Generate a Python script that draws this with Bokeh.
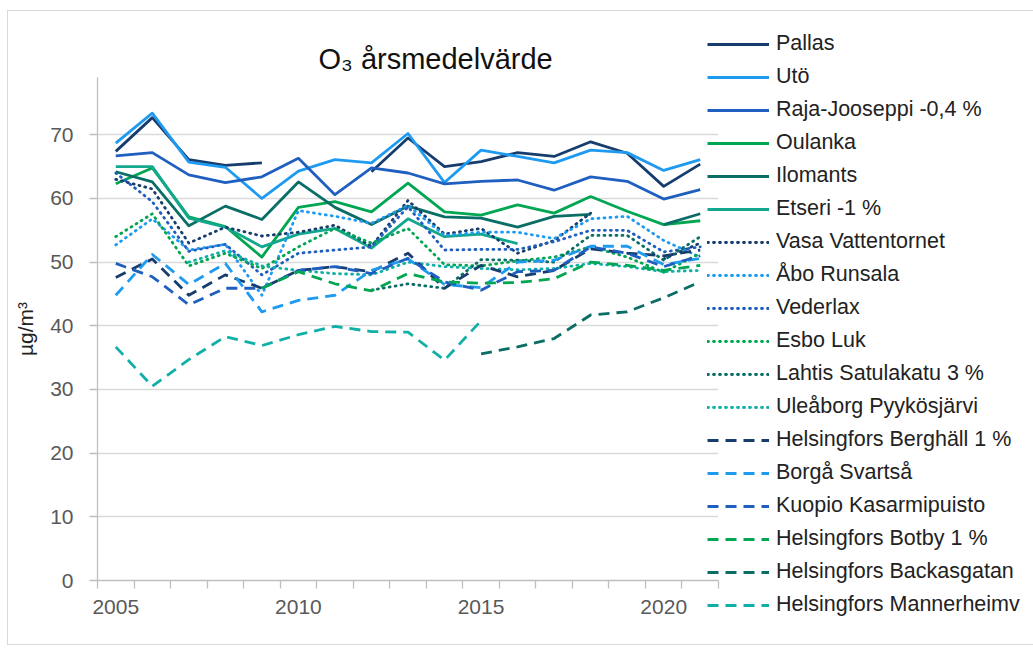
import math
from bokeh.plotting import figure
from bokeh.models import (FixedTicker, Legend, LegendItem, Range1d, ColumnDataSource)
from bokeh.embed import file_html
from bokeh.resources import INLINE

nan = float("nan")

years = list(range(2005, 2022))
tick_years = [2005, 2010, 2015, 2020]
y_ticks = [0, 10, 20, 30, 40, 50, 60, 70]

pallas = [67.4, 72.7, 66.1, 65.2, 65.6, nan, nan, 64.2, 69.5, 65.0, 65.8, 67.2, 66.6, 68.9, 67.1, 61.9, 65.4]
uto = [68.7, 73.4, 65.7, 64.9, 60.0, 64.3, 66.1, 65.6, 70.2, 62.5, 67.6, 66.6, 65.6, 67.6, 67.2, 64.4, 66.1]
raja = [66.7, 67.2, 63.7, 62.5, 63.4, 66.3, 60.6, 64.8, 64.0, 62.3, 62.7, 62.9, 61.3, 63.4, 62.7, 59.9, 61.4]
oulanka = [62.3, 64.8, 57.1, 55.6, 50.8, 58.6, 59.5, 57.9, 62.4, 57.9, 57.4, 59.0, 57.7, 60.3, 58.0, 55.9, 56.5]
ilomants = [64.2, 62.6, 55.7, 58.8, 56.7, 62.6, 58.6, 55.9, 58.8, 57.1, 56.9, 55.5, 57.2, 57.5, nan, 55.9, 57.6]
etseri = [65.0, 65.0, 56.9, 55.5, 52.4, 54.4, 55.3, 52.2, 56.8, 54.0, 54.4, 52.9, nan, nan, nan, nan, nan]
vasa = [63.0, 61.5, 53.0, 55.5, 54.1, 54.7, 55.8, 52.5, 59.7, 54.4, 55.3, 51.4, 53.4, 57.7, nan, 50.5, 53.0]
abo = [52.7, 56.8, 51.9, 52.8, 44.8, 58.1, 57.2, 56.1, 58.9, 54.2, 54.7, 54.7, 53.7, 56.8, 57.2, 53.4, 50.8]
vederlax = [64.0, 59.5, 51.7, 52.8, 48.0, 51.4, 51.9, 52.4, 58.7, 51.9, 52.0, 52.0, 53.2, 55.0, 55.0, 51.6, 52.4]
esbo = [54.0, 57.6, 49.4, 51.4, 49.0, 52.4, 55.3, 53.0, 55.3, 49.6, 49.4, 50.2, 50.8, 52.4, 50.8, 48.4, 51.4]
lahtis = [nan, nan, nan, nan, nan, nan, nan, 45.6, 46.6, 45.9, 50.4, 50.3, 50.0, 54.2, 54.2, 50.3, 54.0]
uleaborg = [nan, nan, 50.0, 51.8, 49.4, 48.7, 48.2, 48.0, 50.0, 49.3, 49.0, 48.8, 49.0, 49.8, 49.3, 48.5, 48.7]
berghall = [47.6, 50.5, 44.8, 48.0, 45.9, 48.7, 49.3, 48.5, 51.4, 45.9, 49.5, 47.7, 48.7, 52.1, 51.4, 51.0, 51.9]
borga = [44.8, 51.2, 46.5, 49.8, 42.2, 44.0, 44.8, 48.7, 50.5, 46.5, 46.0, 50.0, 50.3, 52.5, 52.5, 49.6, 50.6]
kuopio = [49.8, 47.7, 43.3, 45.9, 45.9, 48.7, 49.3, 48.2, 50.6, 46.9, 45.6, 48.5, 48.7, 52.4, 51.4, 49.3, 51.0]
botby = [nan, nan, nan, nan, 45.9, 48.5, 46.6, 45.5, 48.2, 46.9, 46.7, 46.8, 47.4, 50.0, 49.5, 48.7, 49.5]
backasgatan = [nan, nan, nan, nan, nan, nan, nan, nan, nan, nan, 35.6, 36.7, 38.0, 41.7, 42.2, 44.4, 46.9]
mannerheimv = [36.7, 30.5, 34.7, 38.3, 36.9, 38.6, 39.9, 39.1, 39.0, 34.6, 40.8, nan, nan, nan, nan, nan, nan]

NAVY = "#173d6e"
LBLUE = "#1e9bf0"
MBLUE = "#1f5fbf"
GREEN = "#00a651"
DTEAL = "#0a6e66"
TGREEN = "#12a88e"
TEAL = "#10b0a8"

series = [
    ("Pallas", pallas, NAVY, "solid"),
    ("Utö", uto, LBLUE, "solid"),
    ("Raja-Jooseppi -0,4 %", raja, MBLUE, "solid"),
    ("Oulanka", oulanka, GREEN, "solid"),
    ("Ilomants", ilomants, DTEAL, "solid"),
    ("Etseri -1 %", etseri, TGREEN, "solid"),
    ("Vasa Vattentornet", vasa, NAVY, "dot"),
    ("Åbo Runsala", abo, LBLUE, "dot"),
    ("Vederlax", vederlax, MBLUE, "dot"),
    ("Esbo Luk", esbo, GREEN, "dot"),
    ("Lahtis Satulakatu 3 %", lahtis, DTEAL, "dot"),
    ("Uleåborg Pyykösjärvi", uleaborg, TEAL, "dot"),
    ("Helsingfors Berghäll 1 %", berghall, NAVY, "dash"),
    ("Borgå Svartså", borga, LBLUE, "dash"),
    ("Kuopio Kasarmipuisto", kuopio, MBLUE, "dash"),
    ("Helsingfors Botby 1 %", botby, GREEN, "dash"),
    ("Helsingfors Backasgatan", backasgatan, DTEAL, "dash"),
    ("Helsingfors Mannerheimv", mannerheimv, TEAL, "dash"),
]

FONT = "Liberation Sans"

p = figure(
    output_backend="svg", toolbar_location=None,
    frame_width=621, frame_height=503,
    min_border_left=89, min_border_top=66, min_border_right=313, min_border_bottom=64,
    x_range=Range1d(2004.5, 2021.5), y_range=Range1d(0, 79),
    title="O₃ årsmedelvärde",
)
p.margin = (10, 0, 0, 7)
p.styles = {"border": "1px solid #d9d9d9"}
p.outline_line_color = None
p.background_fill_color = "white"
p.border_fill_color = "white"

p.title.text_font = FONT
p.title.text_font_size = "29px"
p.title.text_font_style = "normal"
p.title.text_color = "#111111"
p.title.align = "left"
p.title.offset = 221
p.title.standoff = 5

p.xgrid.grid_line_color = None
p.ygrid.grid_line_color = "#d9d9d9"
p.ygrid.grid_line_width = 1.5

p.xaxis.ticker = FixedTicker(ticks=tick_years, minor_ticks=[y - 0.5 for y in years] + [2021.5])
p.xaxis.major_tick_out = 0
p.xaxis.major_tick_in = 0
p.xaxis.minor_tick_out = 8
p.xaxis.minor_tick_in = 0
p.xaxis.minor_tick_line_color = "#bfbfbf"
p.xaxis.minor_tick_line_width = 1.3
p.xaxis.major_label_standoff = 11

p.yaxis.ticker = FixedTicker(ticks=y_ticks)
p.yaxis.major_tick_out = 8
p.yaxis.major_tick_in = 0
p.yaxis.minor_tick_line_color = None
p.yaxis.major_tick_line_color = "#bfbfbf"
p.yaxis.major_tick_line_width = 1.3
p.yaxis.major_label_standoff = 16
p.yaxis.axis_label = "µg/m³"
p.yaxis.axis_label_standoff = 10
p.yaxis.axis_label_text_font_style = "normal"
p.yaxis.axis_label_text_font_size = "21px"
p.yaxis.axis_label_text_font = FONT
p.yaxis.axis_label_text_color = "#222222"

for ax in (p.xaxis, p.yaxis):
    ax.axis_line_color = "#bfbfbf"
    ax.axis_line_width = 1.3
    ax.major_label_text_font = FONT
    ax.major_label_text_font_size = "21px"
    ax.major_label_text_color = "#595959"

items = []
for name, vals, color, style in series:
    src = ColumnDataSource(dict(x=years, y=vals))
    kw = dict(line_color=color, line_width=2.8, line_join="round")
    if style == "dot":
        kw.update(line_dash="1 5", line_cap="round")
    elif style == "dash":
        kw.update(line_dash="11 7", line_cap="butt")
    r = p.line("x", "y", source=src, **kw)
    items.append(LegendItem(label=name, renderers=[r]))

legend = Legend(
    items=items, location=(-11, -37), orientation="vertical",
    glyph_width=62, glyph_height=24, label_height=24, spacing=8,
    label_standoff=7, padding=0, margin=0,
    border_line_color=None, background_fill_color=None, background_fill_alpha=0,
    label_text_font=FONT, label_text_font_size="21.5px", label_text_color="#222222",
)
p.add_layout(legend, "right")

open("out.html", "w").write(file_html(p, INLINE))
